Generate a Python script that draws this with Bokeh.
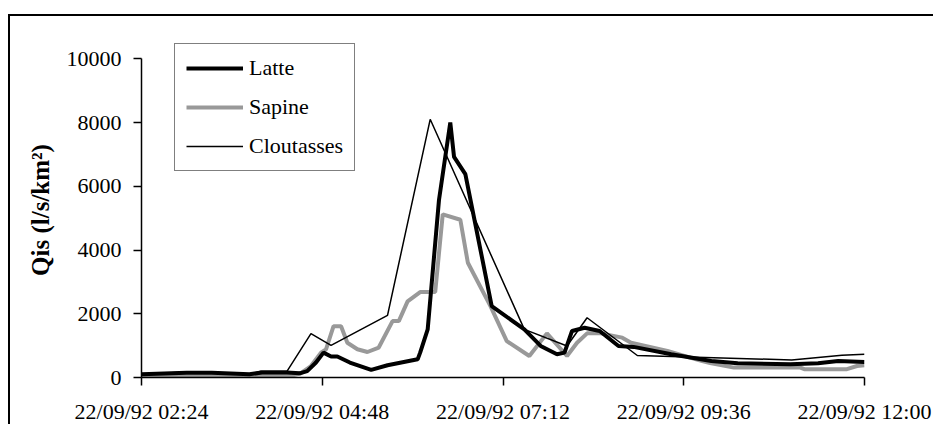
from bokeh.plotting import figure
from bokeh.models import Range1d, FixedTicker, Legend, LegendItem
from bokeh.embed import file_html
from bokeh.resources import INLINE

# ---- data (times as HH:MM on 22/09/92, Qis in l/s/km2) ----
latte_time = ["02:24", "03:00", "03:20", "03:50", "04:00", "04:20", "04:30", "04:36", "04:43", "04:49",
              "04:55", "05:00", "05:10", "05:27", "05:40", "06:04", "06:06", "06:12", "06:21", "06:30",
              "06:33", "06:42", "07:03", "07:29", "07:42", "07:55", "08:01", "08:07", "08:17", "08:29",
              "08:44", "08:56", "09:26", "09:58", "10:19", "11:01", "11:23", "11:39", "12:00"]
latte_q = [100, 150, 150, 100, 160, 160, 130, 200, 470, 780,
           660, 660, 470, 240, 385, 570, 780, 1510, 5570, 8000,
           6920, 6380, 2240, 1510, 990, 730, 780, 1460, 1560, 1460,
           990, 960, 730, 520, 450, 415, 450, 520, 490]

sapine_time = ["02:24", "04:23", "04:31", "04:39", "04:47", "04:51", "04:57", "05:03", "05:08", "05:16",
               "05:24", "05:33", "05:44", "05:49", "05:56", "06:06", "06:18", "06:24", "06:38", "06:44",
               "07:02", "07:15", "07:33", "07:47", "08:03", "08:11", "08:19", "08:30", "08:47", "08:54",
               "09:23", "09:50", "09:57", "10:16", "11:09", "11:12", "11:46", "11:54", "12:00"]
sapine_q = [30, 50, 135, 360, 780, 885, 1610, 1610, 1090, 885,
            800, 940, 1770, 1770, 2390, 2680, 2680, 5120, 4950, 3600,
            2240, 1140, 675, 1385, 675, 1090, 1385, 1385, 1250, 1090,
            830, 520, 450, 310, 310, 260, 260, 360, 385]

clout_time = ["02:24", "03:00", "03:22", "03:51", "03:59", "04:20", "04:39", "04:55", "05:40", "06:14",
              "07:29", "08:03", "08:19", "08:59", "09:33", "11:02", "11:42", "12:00"]
clout_q = [100, 175, 155, 100, 200, 200, 1375, 1010, 1950, 8100,
           1510, 990, 1875, 690, 650, 550, 700, 730]

x_tick_times = ["02:24", "04:48", "07:12", "09:36", "12:00"]
x_tick_labels = ["22/09/92 02:24", "22/09/92 04:48", "22/09/92 07:12", "22/09/92 09:36", "22/09/92 12:00"]
y_ticks = [0, 2000, 4000, 6000, 8000, 10000]


def to_min(s):
    h, m = s.split(":")
    return int(h) * 60 + int(m)


FONT = "Liberation Serif"

xt = [to_min(t) for t in x_tick_times]

p = figure(width=925, height=410, x_range=Range1d(xt[0], xt[-1]), y_range=Range1d(0, 10510),
           output_backend="svg", toolbar_location=None,
           min_border_left=131, min_border_right=71, min_border_top=26, min_border_bottom=48)
p.styles = {"border-top": "2px solid black", "border-left": "2px solid black",
            "margin-top": "14px", "margin-left": "8px"}
p.xgrid.visible = False
p.ygrid.visible = False
p.outline_line_color = None
p.background_fill_color = "white"
p.border_fill_color = "white"

rs = p.line([to_min(t) for t in sapine_time], sapine_q, line_color="#999999", line_width=4)
rc = p.line([to_min(t) for t in clout_time], clout_q, line_color="black", line_width=1.5)
rl = p.line([to_min(t) for t in latte_time], latte_q, line_color="black", line_width=4)

# axes
p.xaxis.ticker = FixedTicker(ticks=xt)
p.xaxis.major_label_overrides = {k: v for k, v in zip(xt, x_tick_labels)}
p.yaxis.ticker = FixedTicker(ticks=y_ticks)
p.yaxis.bounds = (0, 10000)
for ax in (p.xaxis, p.yaxis):
    ax.major_tick_in = 0
    ax.major_tick_out = 8
    ax.minor_tick_line_color = None
    ax.axis_line_width = 1.5
    ax.major_tick_line_width = 1.5
    ax.axis_line_color = "black"
    ax.major_tick_line_color = "black"
    ax.major_label_text_font = FONT
    ax.major_label_text_font_size = "22px"
    ax.major_label_text_color = "black"
p.xaxis.major_label_standoff = 13
p.yaxis.major_label_standoff = 12
p.yaxis.axis_label = "Qis (l/s/km²)"
p.yaxis.axis_label_text_font = FONT
p.yaxis.axis_label_text_font_size = "25px"
p.yaxis.axis_label_text_font_style = "bold"
p.yaxis.axis_label_text_color = "black"
p.yaxis.axis_label_standoff = 10

legend = Legend(items=[LegendItem(label="Latte", renderers=[rl]),
                       LegendItem(label="Sapine", renderers=[rs]),
                       LegendItem(label="Cloutasses", renderers=[rc])],
                location=(33, 206))
legend.border_line_color = "black"
legend.border_line_width = 1
legend.background_fill_color = "white"
legend.background_fill_alpha = 1
legend.padding = 11
legend.spacing = 13
legend.margin = 0
legend.glyph_width = 57
legend.glyph_height = 24
legend.label_height = 24
legend.label_standoff = 6
legend.label_text_font = FONT
legend.label_text_font_size = "22px"
legend.label_text_color = "black"
p.add_layout(legend, "center")

open("out.html", "w").write(file_html(p, INLINE))
